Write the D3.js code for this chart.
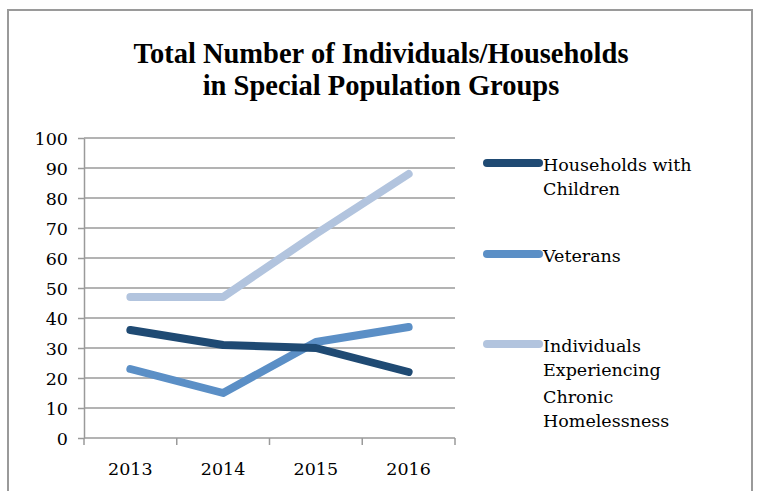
<!DOCTYPE html>
<html>
<head>
<meta charset="utf-8">
<script src="https://cdn.jsdelivr.net/npm/d3@7"></script>
<style>
  html, body { margin: 0; padding: 0; background: #fff; }
  svg text { font-family: "DejaVu Serif", serif; fill: #000; }
  svg text.title { font-family: "Liberation Serif", "Times New Roman", serif; }
</style>
</head>
<body>
<svg id="chart" width="757" height="491"></svg>
<script>
// Years on the category axis
const years = ["2013", "2014", "2015", "2016"];

// Counts per population group
const householdsWithChildren = [36, 31, 30, 22];
const veterans = [23, 15, 32, 37];
const chronicHomelessness = [47, 47, 68, 88];

// Series names as printed in the legend (each entry is a list of wrapped lines)
const seriesNames = [
  ["Households with", "Children"],
  ["Veterans"],
  ["Individuals", "Experiencing", "Chronic", "Homelessness"]
];
const seriesColors = ["#1f4a73", "#5b8fc6", "#b2c4de"];

// Value axis ticks
const yTicks = [0, 10, 20, 30, 40, 50, 60, 70, 80, 90, 100];

const titleLines = ["Total Number of Individuals/Households", "in Special Population Groups"];

const series = [householdsWithChildren, veterans, chronicHomelessness].map((values, i) => ({
  name: seriesNames[i],
  color: seriesColors[i],
  values: values.map((v, j) => ({ year: years[j], value: v }))
}));

const svg = d3.select("#chart");

// Outer chart frame (bottom edge runs past the page)
svg.append("path")
  .attr("d", "M8,500 V10 H752 V500")
  .attr("fill", "none")
  .attr("stroke", "#9a9a9a")
  .attr("stroke-width", 2);

// Title
svg.append("text")
  .attr("class", "title")
  .attr("x", 381)
  .attr("y", 63)
  .attr("text-anchor", "middle")
  .style("font-weight", "bold")
  .style("font-size", "28.5px")
  .selectAll("tspan")
  .data(titleLines)
  .join("tspan")
  .attr("x", 381)
  .attr("dy", (d, i) => i === 0 ? 0 : 32)
  .text(d => d);

// Plot area
const plot = { left: 84, right: 455, top: 138, bottom: 438 };

const x = d3.scaleBand()
  .domain(years)
  .range([plot.left, plot.right]);

const y = d3.scaleLinear()
  .domain([0, 100])
  .range([plot.bottom, plot.top]);

// Horizontal gridlines
svg.append("g")
  .selectAll("line")
  .data(yTicks.filter(t => t > 0))
  .join("line")
  .attr("x1", plot.left)
  .attr("x2", plot.right)
  .attr("y1", d => y(d))
  .attr("y2", d => y(d))
  .attr("stroke", "#9a9a9a")
  .attr("stroke-width", 1.5);

// Value axis
const yAxis = svg.append("g")
  .attr("transform", `translate(${plot.left},0)`)
  .call(d3.axisLeft(y).tickValues(yTicks).tickSize(6).tickPadding(10).tickSizeOuter(0));
yAxis.attr("font-family", null).attr("font-size", null);
yAxis.select(".domain").attr("stroke", "#9a9a9a").attr("stroke-width", 1.5);
yAxis.selectAll(".tick line").attr("stroke", "#9a9a9a").attr("stroke-width", 1.5);
yAxis.selectAll(".tick text")
  .style("font-size", "17.5px")
  .attr("dy", "0.36em");

// Category axis: ticks sit on the band boundaries
const xAxisG = svg.append("g")
  .attr("transform", `translate(0,${plot.bottom})`);
xAxisG.append("line")
  .attr("x1", plot.left).attr("x2", plot.right)
  .attr("stroke", "#9a9a9a").attr("stroke-width", 1.5);
const boundaries = years.map(d => x(d)).concat([x(years[years.length - 1]) + x.bandwidth()]);
xAxisG.selectAll("line.tick")
  .data(boundaries)
  .join("line")
  .attr("class", "tick")
  .attr("x1", d => d).attr("x2", d => d)
  .attr("y1", 0).attr("y2", 7)
  .attr("stroke", "#9a9a9a").attr("stroke-width", 1.5);
xAxisG.selectAll("text")
  .data(years)
  .join("text")
  .attr("x", d => x(d) + x.bandwidth() / 2)
  .attr("y", 37)
  .attr("text-anchor", "middle")
  .style("font-size", "17.5px")
  .text(d => d);

// Series lines (drawn back to front so the darkest sits on top of the light one)
const line = d3.line()
  .x(d => x(d.year) + x.bandwidth() / 2)
  .y(d => y(d.value));

svg.append("g")
  .selectAll("path")
  .data(series.slice().reverse())
  .join("path")
  .attr("d", d => line(d.values))
  .attr("fill", "none")
  .attr("stroke", d => d.color)
  .attr("stroke-width", 8)
  .attr("stroke-linecap", "round")
  .attr("stroke-linejoin", "round");

// Legend
const legendRows = [
  { lineY: 163, baselines: [171, 195] },
  { lineY: 254, baselines: [262] },
  { lineY: 344, baselines: [352, 376, 403, 427] }
];

const legend = svg.append("g");
series.forEach((s, i) => {
  const row = legendRows[i];
  legend.append("line")
    .attr("x1", 487).attr("x2", 539)
    .attr("y1", row.lineY).attr("y2", row.lineY)
    .attr("stroke", s.color)
    .attr("stroke-width", 8)
    .attr("stroke-linecap", "round");
  s.name.forEach((t, k) => {
    legend.append("text")
      .attr("x", 543)
      .attr("y", row.baselines[k])
      .style("font-size", "17.5px")
      .text(t);
  });
});
</script>
</body>
</html>
